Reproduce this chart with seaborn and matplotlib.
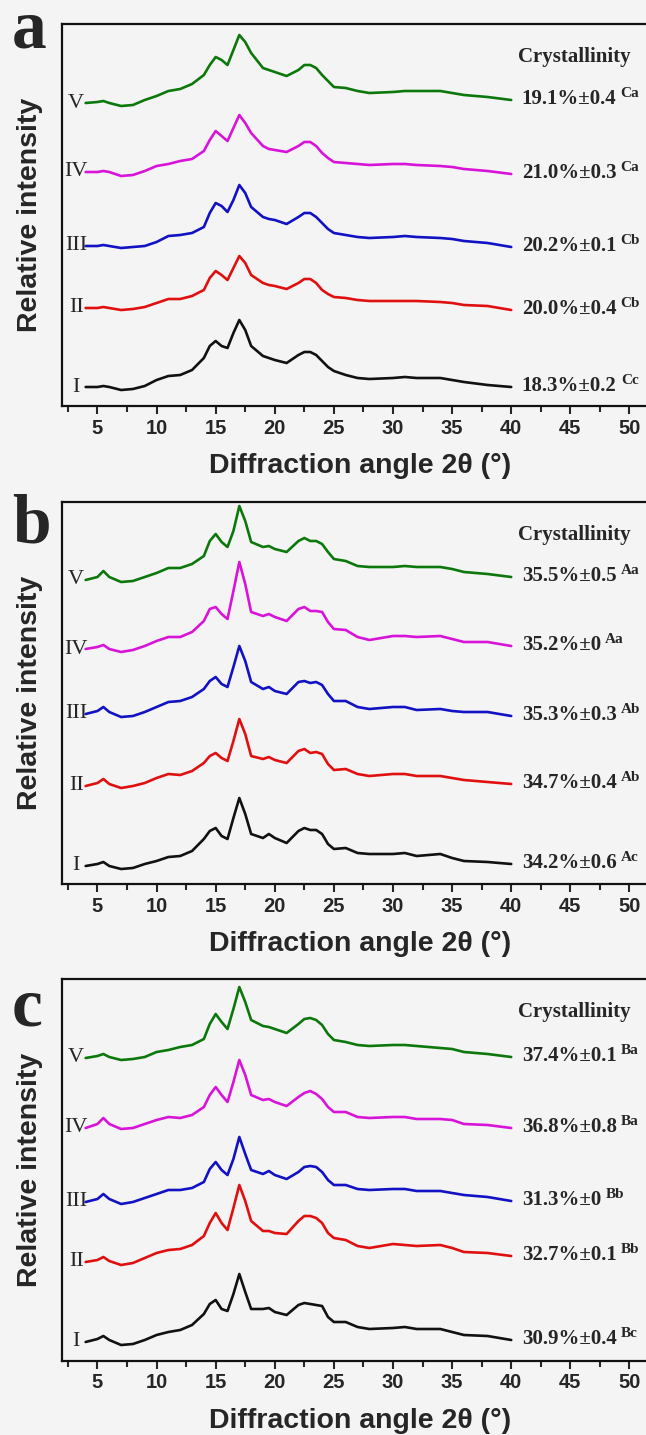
import numpy as np
import pandas as pd
import matplotlib
matplotlib.use("Agg")
import matplotlib.pyplot as plt
import seaborn as sns
from matplotlib.ticker import MultipleLocator

# 2-theta sampling points
two_theta = [4, 5, 5.5, 6, 7, 8, 9, 10, 11, 12, 13, 14, 14.5, 15, 15.5, 16, 16.5,
             17, 17.5, 18, 19, 19.5, 20, 21, 22, 22.5, 23, 23.5, 24, 24.5, 25, 26,
             27, 28, 30, 31, 32, 34, 35, 36, 38, 40]

# relative intensity of each sample (height above its own start point)
a_I = [0, 0, 1, 0, -3, -2, 1, 7, 11, 12, 17, 29, 41, 46, 41, 39, 54, 67, 57, 41,
       31, 29, 27, 24, 32, 35, 35, 32, 26, 20, 16, 12, 9, 8, 9, 10, 9, 9, 7, 5, 2, 0]
a_II = [0, 0, 1, 0, -2, -1, 1, 5, 9, 9, 12, 18, 30, 37, 33, 28, 40, 52, 45, 33,
        25, 23, 22, 19, 25, 29, 29, 25, 18, 14, 11, 10, 8, 7, 7, 7, 7, 6, 5, 3, 2, -2]
a_III = [0, 0, 1, 0, -2, -1, 0, 4, 10, 11, 13, 19, 33, 43, 40, 34, 46, 61, 53, 39,
         29, 27, 26, 22, 29, 33, 33, 29, 23, 17, 13, 11, 9, 8, 9, 10, 9, 8, 7, 5, 3, -1]
a_IV = [0, 0, 1, 0, -4, -3, 1, 6, 8, 11, 13, 21, 32, 41, 36, 31, 44, 57, 49, 39,
        26, 23, 22, 20, 26, 30, 30, 26, 19, 14, 10, 9, 8, 7, 8, 8, 7, 6, 5, 3, 1, -2]
a_V = [0, 1, 2, 0, -3, -2, 3, 7, 12, 14, 19, 28, 38, 46, 43, 38, 53, 68, 61, 50,
       35, 33, 31, 27, 33, 38, 38, 35, 28, 22, 16, 15, 12, 10, 11, 12, 12, 12, 10, 8, 6, 3]

b_I = [0, 2, 4, 0, -3, -2, 2, 5, 9, 10, 15, 27, 35, 38, 30, 27, 48, 68, 52, 32,
       28, 32, 28, 23, 35, 38, 36, 36, 32, 22, 17, 18, 13, 12, 12, 13, 10, 12, 8, 5, 4, 2]
b_II = [0, 3, 7, 2, -2, 0, 3, 8, 12, 11, 15, 23, 30, 33, 28, 25, 45, 67, 52, 30,
        27, 29, 26, 23, 35, 37, 33, 34, 32, 22, 16, 17, 12, 10, 12, 12, 10, 10, 8, 6, 4, 2]
b_III = [0, 3, 7, 2, -3, -2, 2, 7, 12, 13, 17, 25, 33, 37, 30, 27, 47, 68, 53, 32,
         25, 27, 23, 20, 32, 33, 31, 32, 29, 20, 13, 13, 7, 5, 7, 7, 4, 5, 3, 2, 2, -2]
b_IV = [0, 2, 4, 0, -3, -1, 3, 8, 12, 12, 17, 28, 40, 42, 35, 30, 58, 87, 65, 37,
        33, 35, 32, 28, 40, 42, 38, 38, 37, 27, 20, 19, 12, 9, 13, 13, 12, 13, 10, 7, 7, 3]
b_V = [0, 3, 9, 3, -2, -1, 3, 7, 12, 12, 16, 24, 39, 46, 38, 33, 49, 74, 59, 38,
       33, 34, 31, 28, 39, 42, 39, 39, 36, 28, 21, 19, 14, 13, 13, 14, 13, 13, 11, 8, 6, 3]

c_I = [0, 3, 6, 2, -3, -2, 2, 7, 10, 12, 17, 28, 38, 42, 33, 31, 48, 68, 50, 33,
       33, 34, 30, 27, 37, 39, 38, 37, 36, 25, 20, 20, 15, 13, 14, 15, 13, 13, 10, 7, 6, 2]
c_II = [0, 2, 5, 1, -3, -1, 4, 9, 12, 13, 17, 26, 39, 49, 39, 32, 54, 77, 61, 41,
        31, 31, 29, 28, 41, 46, 46, 44, 39, 29, 24, 22, 16, 14, 18, 17, 16, 17, 14, 10, 9, 6]
c_III = [0, 3, 8, 3, -2, 0, 4, 8, 12, 12, 14, 20, 33, 40, 32, 27, 43, 65, 48, 32,
         28, 31, 27, 23, 30, 35, 36, 35, 30, 22, 17, 17, 13, 12, 13, 13, 11, 11, 9, 7, 5, 1]
c_IV = [0, 4, 10, 4, -1, 0, 4, 8, 11, 10, 13, 21, 33, 41, 33, 26, 46, 68, 53, 33,
        28, 29, 26, 22, 31, 35, 37, 34, 29, 21, 16, 16, 11, 10, 11, 11, 9, 9, 8, 4, 3, 0]
c_V = [0, 2, 4, 1, -2, -1, 1, 6, 8, 11, 13, 19, 34, 44, 36, 29, 49, 71, 56, 38,
       32, 31, 29, 25, 34, 39, 40, 38, 33, 24, 18, 16, 13, 12, 13, 13, 12, 10, 9, 6, 4, 1]

samples = ["I", "II", "III", "IV", "V"]
colors = ["#111111", "#e01010", "#1212c4", "#d814d8", "#0c780c"]

a_cryst = ["18.3%±0.2", "20.0%±0.4", "20.2%±0.1", "21.0%±0.3", "19.1%±0.4"]
a_group = ["Cc", "Cb", "Cb", "Ca", "Ca"]
b_cryst = ["34.2%±0.6", "34.7%±0.4", "35.3%±0.3", "35.2%±0", "35.5%±0.5"]
b_group = ["Ac", "Ab", "Ab", "Aa", "Aa"]
c_cryst = ["30.9%±0.4", "32.7%±0.1", "31.3%±0", "36.8%±0.8", "37.4%±0.1"]
c_group = ["Bc", "Bb", "Bb", "Ba", "Ba"]

xtick_values = [5, 10, 15, 20, 25, 30, 35, 40, 45, 50]

# layout (pixels of a 646 x 1435 canvas)
W, H = 646, 1435
BG = "#f4f4f4"
panels = [
    dict(letter="a", curves=[a_I, a_II, a_III, a_IV, a_V], cryst=a_cryst, group=a_group,
         offsets=[19, 98, 160, 234, 303], bottom=406, letter_base=48),
    dict(letter="b", curves=[b_I, b_II, b_III, b_IV, b_V], cryst=b_cryst, group=b_group,
         offsets=[18, 98, 170, 235, 304], bottom=884, letter_base=542),
    dict(letter="c", curves=[c_I, c_II, c_III, c_IV, c_V], cryst=c_cryst, group=c_group,
         offsets=[19, 99, 159, 233, 303], bottom=1361, letter_base=1025),
]
AX_LEFT, AX_W, AX_H = 62, 597, 382

sns.set_style("ticks")
plt.rcParams["font.family"] = ["Liberation Sans", "DejaVu Sans"]
serif = ["Liberation Serif", "DejaVu Serif"]

fig = plt.figure(figsize=(W / 100, H / 100), dpi=100, facecolor=BG)

for p in panels:
    ax = fig.add_axes([AX_LEFT / W, 1 - p["bottom"] / H, AX_W / W, AX_H / H])
    ax.set_facecolor(BG)

    frames = []
    for name, vals, off in zip(samples, p["curves"], p["offsets"]):
        frames.append(pd.DataFrame({"angle": two_theta,
                                    "intensity": np.array(vals) + off,
                                    "sample": name}))
    df = pd.concat(frames, ignore_index=True)
    sns.lineplot(data=df, x="angle", y="intensity", hue="sample",
                 palette=dict(zip(samples, colors)), linewidth=1.9,
                 legend=False, ax=ax)

    for name, vals, off, txt, grp in zip(samples, p["curves"], p["offsets"],
                                         p["cryst"], p["group"]):
        ax.text(3.2, off, name, family=serif, fontsize=16, ha="center", va="center")
        t = ax.text(40.9, off + vals[-1] + 1, txt, family=serif, fontsize=15,
                    fontweight="bold", ha="left", va="center")
        ax.annotate(grp, xy=(1, 0.6), xycoords=t, xytext=(3, 0),
                    textcoords="offset points", family=serif, fontsize=11,
                    fontweight="bold", ha="left", va="baseline")

    ax.text(40.6, 349, "Crystallinity", family=serif, fontsize=15,
            fontweight="bold", ha="left", va="center")

    ax.set_xlim(2, 52.5)
    ax.set_ylim(0, AX_H)
    ax.set_yticks([])
    ax.set_ylabel("")
    ax.set_xticks(xtick_values)
    ax.set_xticklabels([str(v) for v in xtick_values], fontweight="bold")
    ax.xaxis.set_minor_locator(MultipleLocator(2.5))
    ax.tick_params(axis="x", which="major", direction="out", length=6, width=1.5,
                   labelsize=14.5, pad=3)
    ax.tick_params(axis="x", which="minor", direction="out", length=4, width=1.5)
    for side in ["left", "top", "bottom", "right"]:
        ax.spines[side].set_linewidth(1.6)
        ax.spines[side].set_color("#111111")

    ax.set_xlabel("Diffraction angle 2θ (°)", fontsize=20.5, fontweight="bold",
                  labelpad=11)
    ax.text(-32 / AX_W, 0.5, "Relative intensity", transform=ax.transAxes,
            rotation=90, fontsize=20.5, fontweight="bold", ha="center", va="center")

    fig.text(12 / W, 1 - p["letter_base"] / H, p["letter"], family=serif,
             fontsize=50, fontweight="bold", ha="left", va="baseline")

fig.savefig("out.png", dpi=100, facecolor=BG)
